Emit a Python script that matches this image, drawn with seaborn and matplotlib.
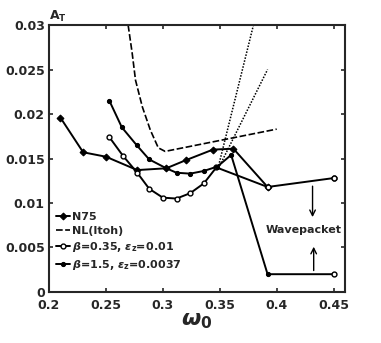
import numpy as np
import pandas as pd
import matplotlib
matplotlib.use("Agg")
import matplotlib.pyplot as plt
import seaborn as sns

# values
n75_w = [0.21, 0.23, 0.25, 0.2775, 0.303, 0.32, 0.344, 0.362, 0.392]
n75_a = [0.0196, 0.0157, 0.0152, 0.0137, 0.0139, 0.0148, 0.0160, 0.0161, 0.0118]

itoh_w = [0.2695, 0.273, 0.276, 0.282, 0.289, 0.296, 0.302, 0.40]
itoh_a = [0.0300, 0.0269, 0.0238, 0.0208, 0.0182, 0.0162, 0.0158, 0.0183]

b035_w = [0.253, 0.265, 0.2775, 0.288, 0.300, 0.312, 0.324, 0.336, 0.347, 0.392, 0.45]
b035_a = [0.0174, 0.0153, 0.0134, 0.0116, 0.0106, 0.0105, 0.0111, 0.0122, 0.0140, 0.0118, 0.0128]

b15_w = [0.253, 0.264, 0.277, 0.288, 0.303, 0.312, 0.324, 0.336, 0.348, 0.360, 0.392, 0.45]
b15_a = [0.0215, 0.0185, 0.0165, 0.0149, 0.0139, 0.0134, 0.0133, 0.0136, 0.0141, 0.0154, 0.0020, 0.0020]

# dotted extrapolations
ext1_w = [0.349, 0.3796]
ext1_a = [0.0142, 0.0300]
ext2_w = [0.350, 0.392]
ext2_a = [0.0142, 0.0250]

# wavepacket points
wave_w = [0.45, 0.45]
wave_a = [0.0128, 0.0020]

sns.set_style("ticks")
plt.rcParams["font.family"] = ["DejaVu Sans"]
plt.rcParams["font.weight"] = "bold"

fig = plt.figure(figsize=(3.81, 3.43), dpi=100)
ax = fig.add_axes([0.1286, 0.1487, 0.7769, 0.7784])

sns.lineplot(x=n75_w, y=n75_a, ax=ax, color="black", lw=1.4, marker="D", ms=3.5,
             mec="black", mfc="black", label="N75")
sns.lineplot(x=itoh_w, y=itoh_a, ax=ax, color="black", lw=1.2, dashes=(4, 1.5),
             label="NL(Itoh)")
sns.lineplot(x=b035_w, y=b035_a, ax=ax, color="black", lw=1.4, marker="o", ms=3.5,
             mec="black", mfc="white", mew=1.0, label=r"$\beta$=0.35, $\epsilon_\mathbf{z}$=0.01")
sns.lineplot(x=b15_w, y=b15_a, ax=ax, color="black", lw=1.4, marker="o", ms=3,
             mec="black", mfc="black", label=r"$\beta$=1.5, $\epsilon_\mathbf{z}$=0.0037")
sns.lineplot(x=ext1_w, y=ext1_a, ax=ax, color="black", lw=1.1, dashes=(1, 1))
sns.lineplot(x=ext2_w, y=ext2_a, ax=ax, color="black", lw=1.1, dashes=(1, 1))
ax.plot(wave_w, wave_a, ls="none", marker="o", ms=3.5, mec="black", mfc="white", mew=1.0)

# wavepacket annotation
ax.text(0.4235, 0.0070, "Wavepacket", fontsize=8, fontweight="bold", ha="center", va="center")
ax.annotate("", xy=(0.4315, 0.0081), xytext=(0.4315, 0.0122),
            arrowprops=dict(arrowstyle="->", color="black", lw=1.0))
ax.annotate("", xy=(0.4325, 0.0054), xytext=(0.4325, 0.0021),
            arrowprops=dict(arrowstyle="->", color="black", lw=1.0))

ax.set_xlim(0.2, 0.46)
ax.set_ylim(0, 0.03)
ax.set_xticks([0.2, 0.25, 0.3, 0.35, 0.4, 0.45])
ax.set_xticklabels(["0.2", "0.25", "0.3", "0.35", "0.4", "0.45"])
ax.set_yticks([0, 0.005, 0.01, 0.015, 0.02, 0.025, 0.03])
ax.set_yticklabels(["0", "0.005", "0.01", "0.015", "0.02", "0.025", "0.03"])
ax.tick_params(direction="in", top=True, right=True, length=3, width=1.2,
               labelsize=9, pad=2)
ax.tick_params(axis="x", pad=5)
ax.tick_params(axis="y", pad=3)
for lab in ax.get_xticklabels() + ax.get_yticklabels():
    lab.set_fontweight("bold")
for sp in ax.spines.values():
    sp.set_linewidth(1.5)
    sp.set_visible(True)

ax.set_xlabel(r"$\omega_\mathbf{0}$", fontsize=16, labelpad=-1)
ax.set_ylabel("")
ax.text(0.0, 1.005, r"$\mathbf{A_T}$", transform=ax.transAxes, fontsize=9,
        ha="left", va="bottom")

ax.legend(loc="lower left", bbox_to_anchor=(0.0, 0.05), frameon=False,
          handlelength=1.3, handletextpad=0.2, labelspacing=0.35,
          borderaxespad=0.2, prop={"weight": "bold", "size": 8})

fig.savefig("out.png", dpi=100)
